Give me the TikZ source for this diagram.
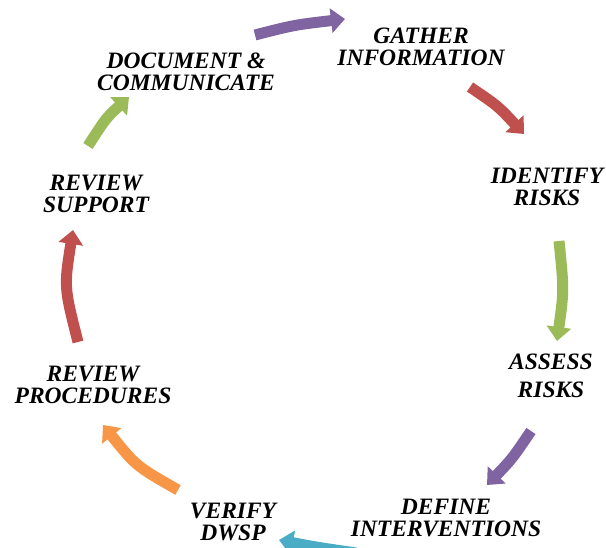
\documentclass[tikz,border=0pt]{standalone}
\usepackage{fontspec}
\setmainfont{Liberation Serif}
\usetikzlibrary{arrows.meta}
\definecolor{cpurple}{HTML}{8064A2}
\definecolor{cred}{HTML}{C0504D}
\definecolor{cgreen}{HTML}{9BBB59}
\definecolor{cteal}{HTML}{4BACC6}
\definecolor{corange}{HTML}{F79646}
\tikzset{
  lbl/.style={font=\fontsize{23.5}{22.5}\selectfont\bfseries\itshape, align=center, inner sep=0pt, text=black},
  cyc/.style={line width=11pt, line cap=butt, -{Triangle[width=24pt,length=14pt]}}
}
\begin{document}
\begin{tikzpicture}[x=1pt,y=-1pt]
\useasboundingbox (0,0) rectangle (606,548);
\clip (0,0) rectangle (606,548);
% labels
\node[lbl] (gather) at (421,47) {GATHER\\INFORMATION};
\node[lbl] (identify) at (547,187) {IDENTIFY\\RISKS};
\node[lbl] (assess) at (551,376) {ASSESS\\[5pt]RISKS};
\node[lbl] (define) at (446,518) {DEFINE\\INTERVENTIONS};
\node[lbl] (verify) at (233,522) {VERIFY\\DWSP};
\node[lbl] (revproc) at (93,385) {REVIEW\\PROCEDURES};
\node[lbl] (revsup) at (96,194) {REVIEW\\SUPPORT};
\node[lbl] (document) at (186,72) {DOCUMENT \&\\COMMUNICATE};
% arrow end points
\coordinate (p1s) at (255,35);  \coordinate (p1e) at (345,19);
\coordinate (p2s) at (470,87);  \coordinate (p2e) at (524,134);
\coordinate (p3s) at (559,241); \coordinate (p3e) at (557,341);
\coordinate (p4s) at (531,431); \coordinate (p4e) at (487,485);
\coordinate (p5s) at (356,553); \coordinate (p5e) at (279,540);
\coordinate (p6s) at (178,490); \coordinate (p6e) at (103,425);
\coordinate (p7s) at (78,342);  \coordinate (p7e) at (73,230);
\coordinate (p8s) at (88,146);  \coordinate (p8e) at (129,97);
% arrows
\draw[cyc, cpurple] (p1s) .. controls (294,25) .. (p1e);
\draw[cyc, cred] (p2s) .. controls (498,106) .. (p2e);
\draw[cyc, cgreen] (p3s) .. controls (564,290) .. (p3e);
\draw[cyc, cpurple] (p4s) .. controls (512,459) .. (p4e);
\draw[cyc, cteal] (p5s) .. controls (315,547) .. (p5e);
\draw[cyc, corange] (p6s) .. controls (136,466) .. (p6e);
\draw[cyc, cred] (p7s) .. controls (64,287) .. (p7e);
\draw[cyc, cgreen] (p8s) .. controls (106,118) .. (p8e);
\end{tikzpicture}
\end{document}
